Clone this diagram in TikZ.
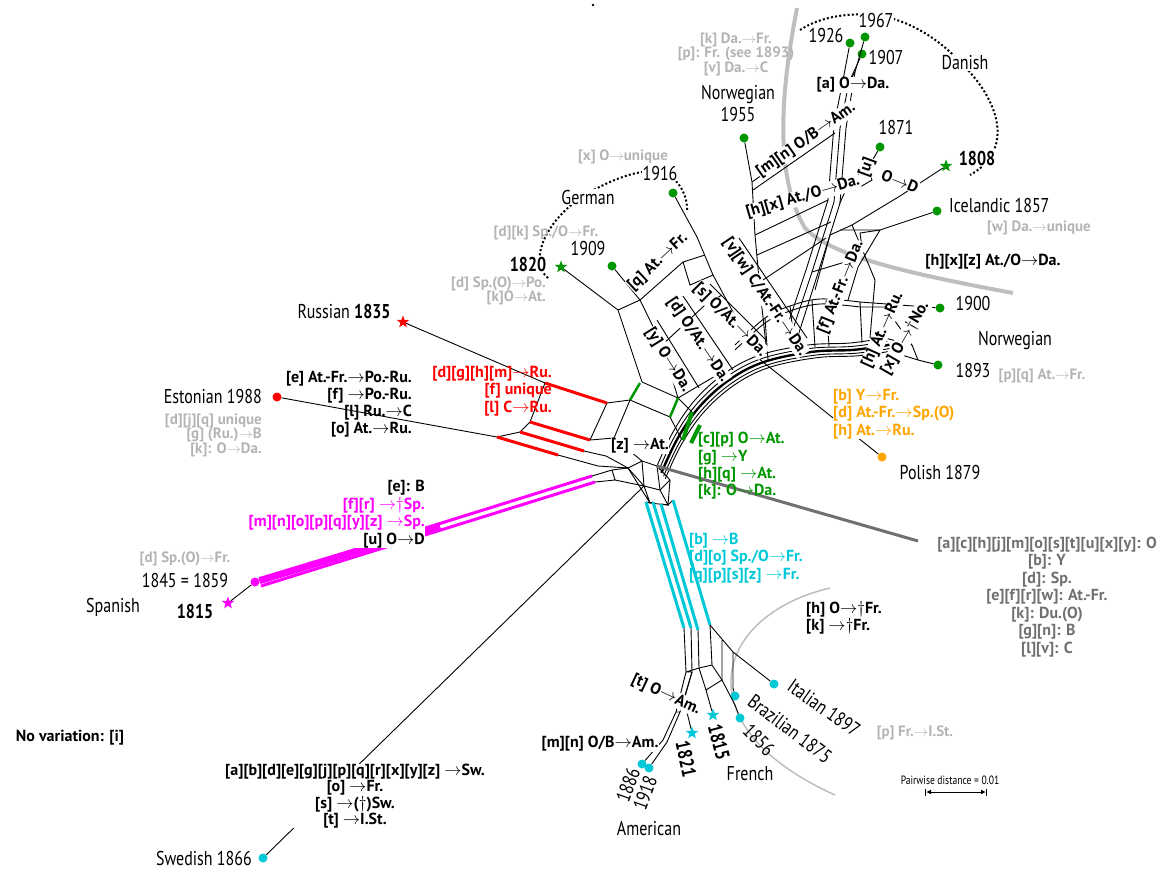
\documentclass[tikz,border=0pt]{standalone}
\usepackage{fontspec}
\setmainfont{PT Sans}
\newfontfamily\condfont[FakeStretch=0.8]{PT Sans}
\usetikzlibrary{arrows.meta,shapes.geometric}
\definecolor{dkgreen}{RGB}{0,150,0}
\definecolor{rured}{RGB}{255,0,0}
\definecolor{spmag}{RGB}{255,0,255}
\definecolor{frcyan}{RGB}{0,200,215}
\definecolor{poorange}{RGB}{255,165,0}
\definecolor{ltgray}{RGB}{180,180,180}
\definecolor{arcgray}{RGB}{190,190,190}
\definecolor{dkgray}{RGB}{112,112,112}
\newcommand{\goes}{\ensuremath{\rightarrow}}
\newcommand{\dgr}{\ensuremath{\dagger}}

\begin{document}
\begin{tikzpicture}[x=1pt, y=-1pt,
    lang/.style={font=\condfont\fontsize{20}{22}\selectfont, inner sep=1pt},
    langb/.style={font=\condfont\bfseries\fontsize{20}{22}\selectfont, inner sep=1pt},
    lab/.style={font=\bfseries\fontsize{16}{17}\selectfont, inner sep=1pt},
    netlab/.style={lab, fill=white, inner sep=0.3pt},
    glab/.style={font=\bfseries\fontsize{15}{14.5}\selectfont, text=ltgray, inner sep=1pt},
    leafdot/.style={circle, fill=#1, inner sep=0pt, minimum size=9pt},
    starleaf/.style={star, star points=5, star point ratio=2.4, fill=#1, inner sep=0pt, minimum size=13pt},
    net/.style={line width=0.9pt},
    band/.style={line width=3pt}]
    \useasboundingbox (0,0) rectangle (1174,871);
    \fill (593,5) circle (1.3);

    % grey guide arcs
    \draw[arcgray, line width=4pt] (797,8) .. controls (785,70) and (770,170) .. (805,228) .. controls (830,255) and (900,272) .. (1013,293);
    \draw[arcgray, line width=1.5pt] (830,588) .. controls (715,615) and (680,725) .. (835,795);
    % dotted outlines
    \draw[line width=2pt, dash pattern=on 2pt off 2.2pt] (800,30) .. controls (815,20) and (840,12) .. (876,15) .. controls (910,20) and (940,40) .. (960,62) .. controls (1000,100) and (1015,150) .. (970,175);
    \draw[line width=2pt, dash pattern=on 2pt off 2.2pt] (548,278) .. controls (528,262) and (545,220) .. (585,195) .. controls (610,180) and (640,168) .. (660,172) .. controls (678,176) and (688,195) .. (687,212);

    % ---------- hub
    \coordinate (hA) at (628,468);
    \coordinate (hB) at (642,461);
    \coordinate (hC) at (657,466);
    \coordinate (hD) at (644,486);
    \coordinate (hE) at (660,490);
    \coordinate (hF) at (670,480);
    \coordinate (hG) at (650,503);
    \coordinate (hH) at (668,505);
    \draw[net] (hA)--(hB)--(hC)--(hF)--(hE)--(hD)--cycle;
    \draw[net] (hB)--(hD) (hC)--(hE) (hD)--(hG)--(hH)--(hE) (hF)--(hH) (hA)--(hG);

    % trunk bundle (lower arc)
    \foreach \o/\w in {0/0.9, 4/0.9, 8/2.4, 12/0.9, 15/0.9}
      \draw[line width=\w pt, shift={(\o*0.55,\o*0.85)}]
        plot[smooth, tension=0.6] coordinates {(657,466) (673,432) (695,400) (725,373) (760,355) (808,345) (850,343) (885,338)};
    % upper arc towards 1900
    \foreach \o in {0,5}
      \draw[net, shift={(0,\o)}] plot[smooth, tension=0.6] coordinates {(735,345) (765,318) (790,306) (820,299) (860,302)};
    \draw[net] (790,306)--(795,350) (812,300)--(815,347) (826,300)--(829,346) (860,302)--(862,343) (765,318)--(768,360);

    % ---------- upper network
    \node[leafdot=dkgreen] (d1916) at (673,193) {};
    \node[leafdot=dkgreen] (d1909) at (612,266) {};
    \node[starleaf=dkgreen] (s1820) at (561,267) {};
    \node[leafdot=dkgreen] (d1955) at (744,138) {};
    \node[leafdot=dkgreen] (d1926) at (850,43) {};
    \node[leafdot=dkgreen] (d1967) at (865,37) {};
    \node[leafdot=dkgreen] (d1907) at (862,54) {};
    \node[leafdot=dkgreen] (d1871) at (880,147) {};
    \node[starleaf=dkgreen] (s1808) at (946,166) {};
    \node[leafdot=dkgreen] (dice) at (937,211) {};
    \node[leafdot=dkgreen] (d1900) at (940,308) {};
    \node[leafdot=dkgreen] (d1893) at (938,365) {};
    \node[leafdot=poorange] (dpol) at (882,457) {};

    \draw[net] (s1820)--(618,310)--(642,382);
    \draw[net] (d1909)--(640,300)--(662,345)--(678,398);
    \draw[net] (d1916)--(697,237)--(713,275)--(733,312)--(752,350);
    \draw[net] (618,310)--(640,300)--(683,262)--(705,255);
    \draw[net] (683,262)--(690,285)--(713,275);
    \draw[net] (662,345)--(705,305)--(722,295);
    \draw[net] (642,382)--(678,398)--(692,412);
    \draw[net] (630,400)--(670,417)--(682,440);
    \draw[net] (678,398)--(722,372);
    \draw[net] (657,320)--(699,388) (683,296)--(733,370) (710,284)--(766,340) (739,238)--(807,338);
    \draw[net] (d1955)--(752,182)--(755,235)--(760,290)--(766,345);
    \draw[net] (752,182)--(833,125) (753,190)--(835,133);
    \draw[net] (d1926)--(843,80)--(834,125)--(828,200)--(806,270)--(784,336);
    \draw[net] (d1907)--(849,82)--(840,128)--(834,202)--(812,272)--(790,338);
    \draw[net] (d1967)--(855,72)--(846,128)--(840,203)--(818,273)--(797,339);
    \draw[net] (843,80)--(849,82)--(855,72);
    \draw[net] (755,235)--(828,200) (757,255)--(831,222) (760,282)--(826,238);
    \draw[net] (d1871)--(868,168)--(850,180)--(840,203);
    \draw[net] (868,168)--(872,180)--(855,190);
    \draw[net] (s1808)--(900,196)--(852,225)--(830,235);
    \draw[net] (dice)--(880,230)--(840,230) (880,230)--(858,267)--(848,300);
    \draw[net] (880,230)--(860,233)--(862,248);
    \draw[net] (830,235)--(815,290) (845,262)--(835,300) (812,272)--(845,262)--(858,267);
    \draw[net] (852,225)--(875,280)--(870,338);
    \draw[net] (860,302)--(d1900) (860,307)--(885,307);
    \draw[net] (885,338)--(912,345)--(918,360)--(d1893) (892,352)--(918,360) (885,307)--(912,345);
    \draw[net] (758,358)--(dpol);

    % ---------- left arms
    \node[starleaf=rured] (sru) at (403,322) {};
    \node[leafdot=rured] (dest) at (277,397) {};
    \coordinate (r1a) at (545,383); \coordinate (r1b) at (607,403);
    \coordinate (r2a) at (530,422); \coordinate (r2b) at (590,440);
    \coordinate (r3a) at (520,432); \coordinate (r3b) at (584,451);
    \coordinate (r4a) at (497,437); \coordinate (r4b) at (558,455);
    \draw[net] (sru)--(r1a) (dest)--(r4a)--(r3a)--(r2a)--(r1a);
    \draw[net] (r1b)--(630,400)--(614,438)--(r2b)--cycle;
    \draw[net] (614,438)--(hB) (r3b)--(606,456)--(hA) (r4b)--(598,466)--(hA);
    \foreach \a/\b in {r1a/r1b, r2a/r2b, r3a/r3b, r4a/r4b}
      \draw[band, rured] (\a)--(\b);
    % green splits
    \draw[dkgreen, line width=2.5pt] (640,383)--(630,400) (678,398)--(670,417);
    \draw[dkgreen, line width=4pt] (692,412)--(683,440) (700,425)--(691,443);

    % Spanish
    \node[leafdot=spmag] (dspa) at (255,582) {};
    \node[starleaf=spmag] (sspa) at (228,603) {};
    \coordinate (spA) at (592,476); \coordinate (spB) at (595,482);
    \draw[net] (dspa)--(sspa);
    \draw[band, spmag] (259,580)--(spA);
    \draw[band, spmag] (261,586)--(spB);
    \draw[spmag, line width=7pt] (dspa)--(440,526);
    \draw[net] (spA)--(612,470)--(hA) (spB)--(615,480)--(hD) (612,470)--(615,480);

    % Swedish
    \node[leafdot=frcyan] (dswe) at (263,858) {};
    \draw[net] (dswe)--(hD);

    % Dutch-type grey line
    \draw[dkgray, line width=3pt] (hC)--(918,541);

    % ---------- French / American
    \coordinate (c1t) at (646,502); \coordinate (c1b) at (684,628);
    \coordinate (c2t) at (653,502); \coordinate (c2b) at (691,628);
    \coordinate (c3t) at (661,504); \coordinate (c3b) at (698,630);
    \coordinate (c4t) at (673,500); \coordinate (c4b) at (710,625);
    \draw[net] (hG)--(c1t) (hG)--(c2t) (hH)--(c3t) (hH)--(c4t);
    \foreach \a/\b in {c1t/c1b, c2t/c2b, c3t/c3b, c4t/c4b}
      \draw[band, frcyan] (\a)--(\b);
    \node[leafdot=frcyan] (d1886) at (642,764) {};
    \node[leafdot=frcyan] (d1918) at (649,768) {};
    \node[starleaf=frcyan] (s1821) at (692,733) {};
    \node[starleaf=frcyan] (s1815) at (713,715) {};
    \node[leafdot=frcyan] (d1856) at (740,718) {};
    \node[leafdot=frcyan] (d1875) at (735,696) {};
    \node[leafdot=frcyan] (d1897) at (774,684) {};
    \draw[net] (c1b)--(686,672) (c2b)--(692,672) (c3b)--(699,668) (c4b)--(712,665);
    \draw[net] (686,672)--(699,668)--(712,665) (686,672)--(692,672);
    \draw[net] (686,672)--(676,712)--(663,740)--(d1886);
    \draw[net] (692,672)--(680,712)--(667,742)--(d1918) (676,712)--(680,712);
    \draw[net] (699,668)--(706,690)--(s1815) (706,690)--(722,680)--(712,665);
    \draw[net] (692,672)--(684,700)--(s1821);
    \draw[net] (722,680)--(735,705)--(d1856);
    \draw[net] (c4b)--(733,652)--(d1897) (733,652)--(733,688)--(d1875) (722,640)--(722,680);

    % ---------- labels: Danish / Norwegian
    \node[lang] (l1926) at (826,35) {1926};
    \node[lang, fill=white] (l1967) at (876,20) {1967};
    \node[lang] (l1907) at (886,57) {1907};
    \node[netlab] (ka) at (853,85) {[a] O\goes Da.};
    \node[netlab, rotate=35] (kmn) at (806,140) {[m][n] O/B\goes Am.};
    \node[netlab, rotate=16] (khx) at (803,197) {[h][x] At./O\goes Da.};
    \node[netlab, rotate=70] (ku) at (867,167) {[u]};
    \node[netlab, rotate=-22] (kuo) at (900,181) {O\goes D};
    \node[lang] (l1871) at (896,127) {1871};
    \node[langb, fill=white] (l1808) at (977,158) {1808};
    \node[lang, fill=white] (ldan) at (965,63) {Danish};
    \node[lang, anchor=west] (lice) at (948,205) {Icelandic 1857};
    \node[glab] (kw) at (1039,228) {[w] Da.\goes unique};
    \node[lab] (khxz) at (993,262) {[h][x][z] At./O\goes Da.};
    \node[lang, align=center] (l1955) at (738,104) {Norwegian\\1955};
    \node[glab, align=center] (kkpv) at (736,54) {[k] Da.\goes Fr.\\{}[p]: Fr. (see 1893)\\{}[v] Da.\goes C};
    \node[glab] (kx) at (623,157) {[x] O\goes unique};
    \node[lang] (l1900) at (973,303) {1900};
    \node[lang] (lnor) at (1015,340) {Norwegian};
    \node[lang] (l1893) at (973,370) {1893};
    \node[glab] (kpq) at (1042,376) {[p][q] At.\goes Fr.};

    % German
    \node[lang, fill=white] (l1916) at (660,173) {1916};
    \node[lang, fill=white] (lger) at (588,197) {German};
    \node[lang] (l1909) at (588,248) {1909};
    \node[langb, fill=white] (l1820) at (528,264) {1820};
    \node[glab] (kdk) at (546,233) {[d][k] Sp./O\goes Fr.};
    \node[glab, align=right, anchor=east] (kdpo) at (547,291) {[d] Sp.(O)\goes Po.\\{}[k]O\goes At.};

    % split labels inside the network
    \node[netlab, rotate=43] (kq) at (658,262) {[q] At.\goes Fr.};
    \node[netlab, rotate=-45] (ks) at (730,320) {[s] O/At.\goes Da.};
    \node[netlab, rotate=-56] (kd) at (698,340) {[d] O/At.\goes Da.};
    \node[netlab, rotate=-58] (ky) at (668,360) {[y] O\goes Da.};
    \node[netlab, rotate=-56] (kvw) at (765,297) {[v][w] C/At.-Fr.\goes Da.};
    \node[netlab, rotate=68] (kf) at (841,287) {[f] At.-Fr.\goes Da.};
    \node[netlab, rotate=66] (kh) at (883,330) {[h] At.\goes Ru.};
    \node[netlab, rotate=60] (kxno) at (905,338) {[x] O\goes\dgr No.};
    \node[netlab] (kz) at (640,446) {[z] \goes At.};

    % Russian / Estonian
    \node[lang] (lru) at (344,311) {Russian \textbf{1835}};
    \node[lab, text=rured, align=right, anchor=east, font=\bfseries\fontsize{16}{17.5}\selectfont] (kru) at (553,391) {[d][g][h][m]\goes Ru.\\{}[f] unique\\{}[l] C\goes Ru.};
    \node[lang, anchor=east] (lest) at (263,396) {Estonian 1988};
    \node[lab, align=right, anchor=east] (kest) at (413,404) {[e] At.-Fr.\goes Po.-Ru.\\{}[f] \goes Po.-Ru.\\{}[l] Ru.\goes C\\{}[o] At.\goes Ru.};
    \node[glab, align=right, anchor=east] (kestg) at (263,435) {[d][j][q] unique\\{}[g] (Ru.)\goes B\\{}[k]: O\goes Da.};

    % Spanish
    \node[lab, fill=white, inner sep=0pt, align=right, anchor=east, font=\bfseries\fontsize{16}{17.7}\selectfont] (kspa) at (425,514) {[e]: B\\\textcolor{spmag}{[f][r] \goes\dgr Sp.}\\\textcolor{spmag}{[m][n][o][p][q][y][z] \goes Sp.}\\{}[u] O\goes D};
    \node[glab] (kspg) at (185,559) {[d] Sp.(O)\goes Fr.};
    \node[lang] (lspy) at (185,580) {1845 = 1859};
    \node[lang] (lspa) at (113,607) {Spanish};
    \node[langb] (l1815s) at (195,611) {1815};

    % Swedish
    \node[lab] (knov) at (70,738) {No variation: [i]};
    \node[lab, fill=white, inner sep=0pt, align=center, font=\bfseries\fontsize{16}{16.3}\selectfont] (kswe) at (355,796) {[a][b][d][e][g][j][p][q][r][x][y][z] \goes Sw.\\{}[o] \goes Fr.\\{}[s] \goes(\dgr)Sw.\\{}[t] \goes I.St.};
    \node[lang, anchor=east] (lswe) at (253,858) {Swedish 1866};

    % colour blocks on the right
    \node[lab, text=dkgreen, align=left, anchor=west, font=\bfseries\fontsize{16}{17.3}\selectfont] (kgre) at (697,466) {[c][p] O\goes At.\\{}[g] \goes Y\\{}[h][q] \goes At.\\{}[k]: O\goes Da.};
    \node[lab, text=poorange, fill=white, inner sep=0pt, align=left, anchor=west, font=\bfseries\fontsize{16}{17.5}\selectfont] (kpol) at (833,414) {[b] Y\goes Fr.\\{}[d] At.-Fr.\goes Sp.(O)\\{}[h] At.\goes Ru.};
    \node[lang] (lpol) at (940,472) {Polish 1879};
    \node[lab, text=dkgray, align=center, font=\bfseries\fontsize{16}{17.5}\selectfont] (kdut) at (1047,597) {[a][c][h][j][m][o][s][t][u][x][y]: O\\{}[b]: Y\\{}[d]: Sp.\\{}[e][f][r][w]: At.-Fr.\\{}[k]: Du.(O)\\{}[g][n]: B\\{}[l][v]: C};
    \node[lab, text=frcyan, align=left, anchor=west, font=\bfseries\fontsize{16}{17.8}\selectfont] (kfre) at (688,558) {[b] \goes B\\{}[d][o] Sp./O\goes Fr.\\{}[q][p][s][z] \goes Fr.};
    \node[lab, align=left, anchor=west] (kfrh) at (805,618) {[h] O\goes\dgr Fr.\\{}[k] \goes\dgr Fr.};

    % French / American labels
    \node[netlab, rotate=-25] (kt) at (666,695) {[t] O\goes Am.};
    \node[netlab] (kmna) at (600,744) {[m][n] O/B\goes Am.};
    \node[lang, rotate=70] (l1886) at (628,785) {1886};
    \node[lang, rotate=70] (l1918) at (645,793) {1918};
    \node[langb, rotate=-78] (l1821) at (686,759) {1821};
    \node[langb, rotate=-75] (l1815f) at (719,742) {1815};
    \node[lang, rotate=-45] (l1856) at (759,740) {1856};
    \node[lang, rotate=-37] (l1875) at (790,729) {Brazilian 1875};
    \node[lang, rotate=-35] (l1897) at (824,708) {Italian 1897};
    \node[lang] (lfre) at (750,774) {French};
    \node[lang] (lame) at (649,828) {American};
    \node[glab] (kpis) at (915,733) {[p] Fr.\goes I.St.};

    % scale
    \node[font=\condfont\fontsize{12}{13}\selectfont, inner sep=1pt] (pwd) at (950,780) {Pairwise distance = 0.01};
    \coordinate (sbL) at (925,792);
    \coordinate (sbR) at (987,792);
    \draw[|<->|, >={Latex[length=5pt,width=5pt]}, line width=1pt] (sbL)--(sbR);
\end{tikzpicture}
\end{document}
